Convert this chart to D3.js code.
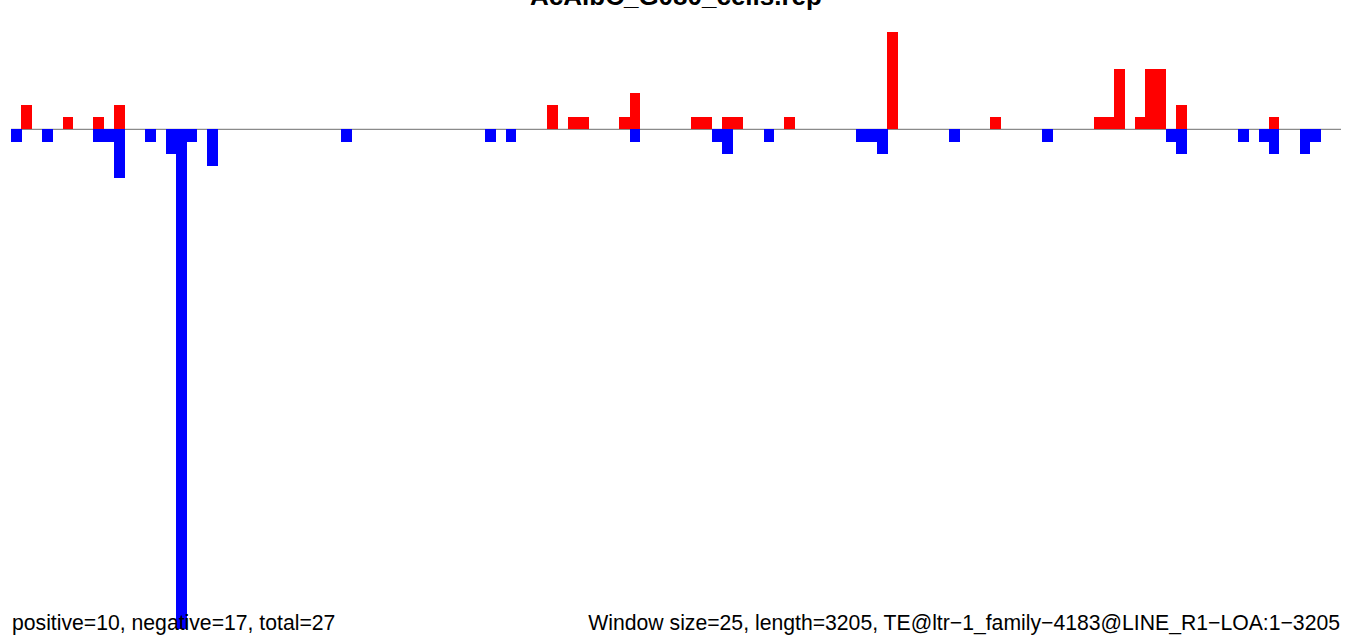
<!DOCTYPE html>
<html>
<head>
<meta charset="utf-8">
<script src="https://cdn.jsdelivr.net/npm/d3@7"></script>
<style>
  html, body { margin: 0; padding: 0; background: #fff; }
  svg { display: block; }
  text { font-family: "Liberation Sans", Arial, sans-serif; }
</style>
</head>
<body>
<svg id="chart" width="1352" height="638"></svg>
<script>
// ---- data ----
const title = "AcAlbC_G080_cells.rep";
const nBins = 129; // ceil(3205 / 25)
const posBins   = [1, 5, 8, 10, 52, 54, 55, 59, 60, 66, 67, 69, 70, 75, 85, 95, 105, 106, 107, 109, 110, 111, 113, 122];
const posValues = [2, 1, 1, 2, 2, 1, 1, 1, 3, 1, 1, 1, 1, 1, 8, 1, 1, 1, 5, 1, 5, 5, 2, 1];
const negBins   = [0, 3, 8, 9, 10, 13, 15, 16, 17, 19, 32, 46, 48, 60, 68, 69, 73, 82, 83, 84, 91, 100, 112, 113, 119, 121, 122, 125, 126];
const negValues = [-1, -1, -1, -1, -4, -1, -2, -41, -1, -3, -1, -1, -1, -1, -1, -2, -1, -1, -1, -2, -1, -1, -1, -2, -1, -1, -2, -2, -1];
const leftNote  = "positive=10, negative=17, total=27";
const rightNote = "Window size=25, length=3205, TE@ltr\u22121_family\u22124183@LINE_R1\u2212LOA:1\u22123205";
const yDomain = [-41, 8];

// ---- drawing ----
const svg = d3.select("#chart");
const plot = { left: 11, right: 1341, top: 32, bottom: 629 };

const x = d3.scaleBand()
  .domain(d3.range(nBins))
  .range([plot.left, plot.right])
  .paddingInner(0).paddingOuter(0);

const y = d3.scaleLinear().domain(yDomain).range([plot.bottom, plot.top]);

// baseline
svg.append("line")
  .attr("x1", plot.left).attr("x2", plot.right)
  .attr("y1", y(0)).attr("y2", y(0))
  .attr("stroke", "#8a8a8a").attr("stroke-width", 1.2);

const pos = posBins.map((b, i) => ({ bin: b, v: posValues[i] }));
const neg = negBins.map((b, i) => ({ bin: b, v: negValues[i] }));

svg.append("g").attr("shape-rendering", "crispEdges")
  .selectAll("rect").data(pos).join("rect")
  .attr("x", d => x(d.bin))
  .attr("width", x.bandwidth() + 0.3)
  .attr("y", d => y(d.v))
  .attr("height", d => y(0) - y(d.v))
  .attr("fill", "#ff0000");

svg.append("g").attr("shape-rendering", "crispEdges")
  .selectAll("rect").data(neg).join("rect")
  .attr("x", d => x(d.bin))
  .attr("width", x.bandwidth() + 0.3)
  .attr("y", y(0))
  .attr("height", d => y(d.v) - y(0))
  .attr("fill", "#0000ff");

// title
svg.append("text")
  .attr("x", (plot.left + plot.right) / 2)
  .attr("y", 5)
  .attr("text-anchor", "middle")
  .attr("font-weight", "bold")
  .attr("font-size", 26)
  .attr("fill", "#000")
  .text(title);

// bottom notes
svg.append("text")
  .attr("x", 12).attr("y", 630)
  .attr("font-size", 21.2)
  .attr("fill", "#000")
  .text(leftNote);

svg.append("text")
  .attr("x", 1340).attr("y", 630)
  .attr("text-anchor", "end")
  .attr("font-size", 21.2)
  .attr("fill", "#000")
  .text(rightNote);
</script>
</body>
</html>
